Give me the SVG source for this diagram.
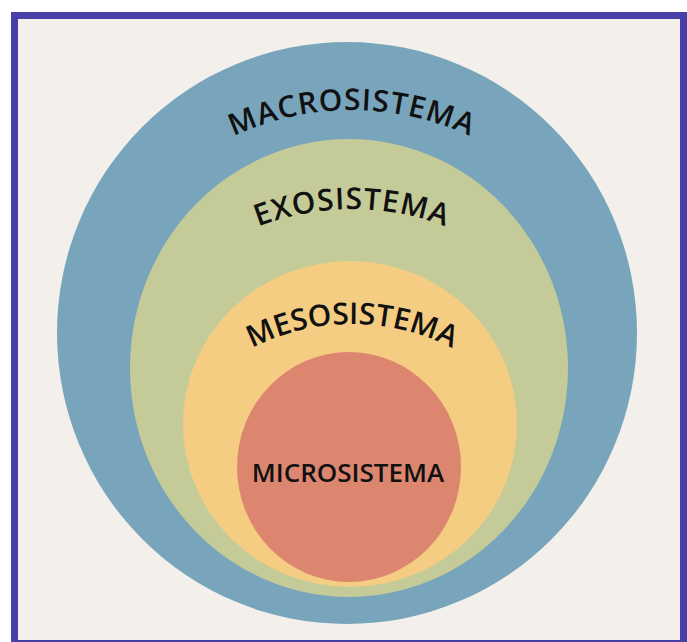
<svg xmlns="http://www.w3.org/2000/svg" width="687" height="642" viewBox="0 0 687 642">
<style>
.lbl{font-family:"Open Sans","Liberation Sans",sans-serif;font-weight:600;font-size:26px;fill:#111;}
.arc{font-size:30px;letter-spacing:1px;}
</style>
<defs>
<path id="pMacro" d="M 72,390 A 280 280 0 0 1 632,390"/>
<path id="pExo" d="M 92,469 A 260 260 0 0 1 612,469"/>
<path id="pMeso" d="M 132,544 A 220 220 0 0 1 572,544"/>
</defs>
<rect x="0" y="0" width="687" height="642" fill="#ffffff"/>
<rect id="frame" x="14.5" y="15.5" width="669" height="628" fill="#f3f0ec" stroke="#4840a8" stroke-width="7"/>
<g id="macro">
<ellipse cx="347" cy="333" rx="290" ry="291" fill="#78a5bc"/>
</g>
<g id="exo">
<ellipse cx="349" cy="368" rx="219" ry="229" fill="#c5cb98"/>
</g>
<g id="meso">
<ellipse cx="350" cy="424" rx="167" ry="163" fill="#f5cd82"/>
</g>
<g id="micro">
<ellipse cx="349" cy="467" rx="112" ry="115" fill="#dc8670"/>
</g>
<g id="labels">
<text class="lbl arc"><textPath href="#pMacro" startOffset="50%" text-anchor="middle">MACROSISTEMA</textPath></text>
<text class="lbl arc"><textPath href="#pExo" startOffset="50%" text-anchor="middle">EXOSISTEMA</textPath></text>
<text class="lbl arc" style="letter-spacing:0px"><textPath href="#pMeso" startOffset="50%" text-anchor="middle">MESOSISTEMA</textPath></text>
<text class="lbl" x="348" y="482" text-anchor="middle">MICROSISTEMA</text>
</g>
</svg>
